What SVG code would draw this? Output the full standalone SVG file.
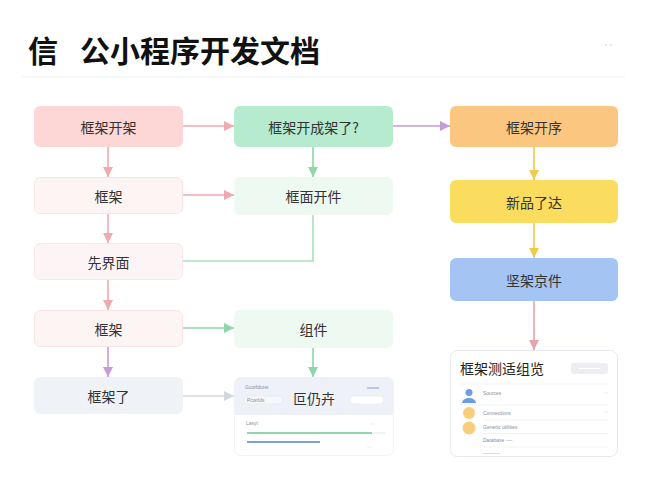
<svg xmlns="http://www.w3.org/2000/svg" width="650" height="500" viewBox="0 0 650 500">
<defs>
<style>
.t{font-family:"Noto Sans CJK SC","Noto Sans",sans-serif;font-size:14px;fill:#333;text-anchor:middle;dominant-baseline:central}
.tiny{font-family:"Liberation Sans",sans-serif;font-size:5px;fill:#8a8f99}
.ln{fill:none;stroke-width:1.6}
</style>
<marker id="aPink" viewBox="0 0 10 10" refX="10" refY="5" markerWidth="10" markerHeight="10" markerUnits="userSpaceOnUse" orient="auto"><path d="M0,0L10,5L0,10z" fill="#f0a9b0"/></marker>
<marker id="aGreen" viewBox="0 0 10 10" refX="10" refY="5" markerWidth="10" markerHeight="10" markerUnits="userSpaceOnUse" orient="auto"><path d="M0,0L10,5L0,10z" fill="#8fd6ab"/></marker>
<marker id="aPurple" viewBox="0 0 10 10" refX="10" refY="5" markerWidth="10" markerHeight="10" markerUnits="userSpaceOnUse" orient="auto"><path d="M0,0L10,5L0,10z" fill="#c79bd6"/></marker>
<marker id="aYellow" viewBox="0 0 10 10" refX="10" refY="5" markerWidth="10" markerHeight="10" markerUnits="userSpaceOnUse" orient="auto"><path d="M0,0L10,5L0,10z" fill="#f2c94c"/></marker>
<marker id="aGray" viewBox="0 0 10 10" refX="10" refY="5" markerWidth="10" markerHeight="10" markerUnits="userSpaceOnUse" orient="auto"><path d="M0,0L10,5L0,10z" fill="#d3d8e0"/></marker>
<marker id="aRose" viewBox="0 0 10 10" refX="10" refY="5" markerWidth="10" markerHeight="10" markerUnits="userSpaceOnUse" orient="auto"><path d="M0,0L10,5L0,10z" fill="#e8a2aa"/></marker>
</defs>
<rect width="650" height="500" fill="#ffffff"/>

<g id="header">
<text x="28" y="62" font-family="'Noto Sans CJK SC',sans-serif" font-size="30" font-weight="bold" fill="#111"><tspan x="28">信</tspan><tspan x="80">公小程序开发文档</tspan></text>
<circle cx="606" cy="45" r="0.8" fill="#c8ccd2"/>
<circle cx="611" cy="45" r="0.8" fill="#c8ccd2"/>
<line x1="22" y1="77" x2="625" y2="77" stroke="#eef0f3" stroke-width="1"/>
</g>

<g id="connectors">
<line class="ln" x1="183" y1="126" x2="234" y2="126" stroke="#f0a9b0" marker-end="url(#aPink)"/>
<line class="ln" x1="393" y1="126" x2="450" y2="126" stroke="#c79bd6" marker-end="url(#aPurple)"/>
<line class="ln" x1="108" y1="147" x2="108" y2="177" stroke="#f0a9b0" marker-end="url(#aPink)"/>
<line class="ln" x1="183" y1="195" x2="234" y2="195" stroke="#f0a9b0" marker-end="url(#aPink)"/>
<line class="ln" x1="313" y1="147" x2="313" y2="177" stroke="#8fd6ab" marker-end="url(#aGreen)"/>
<polyline class="ln" points="313,215 313,261 183,261" stroke="#a9dfbe"/>
<line class="ln" x1="108" y1="213" x2="108" y2="243" stroke="#f0a9b0" marker-end="url(#aPink)"/>
<line class="ln" x1="108" y1="279" x2="108" y2="310" stroke="#f0a9b0" marker-end="url(#aPink)"/>
<line class="ln" x1="183" y1="328" x2="234" y2="328" stroke="#8fd6ab" marker-end="url(#aGreen)"/>
<line class="ln" x1="108" y1="347" x2="108" y2="377" stroke="#c79bd6" marker-end="url(#aPurple)"/>
<line class="ln" x1="313" y1="348" x2="313" y2="377" stroke="#8fd6ab" marker-end="url(#aGreen)"/>
<line class="ln" x1="183" y1="396" x2="234" y2="396" stroke="#d3d8e0" marker-end="url(#aGray)"/>
<line class="ln" x1="534" y1="147" x2="534" y2="180" stroke="#f2c94c" marker-end="url(#aYellow)"/>
<line class="ln" x1="534" y1="223" x2="534" y2="258" stroke="#f2c94c" marker-end="url(#aYellow)"/>
<line class="ln" x1="534" y1="301" x2="534" y2="350" stroke="#e8a2aa" marker-end="url(#aRose)"/>
</g>

<g id="n1"><rect x="34" y="106" width="149" height="41" rx="6" fill="#fdd6d6"/><text class="t" x="108.5" y="127">框架开架</text></g>
<g id="n2"><rect x="34.5" y="177.5" width="148" height="36" rx="6" fill="#fdf4f4" stroke="#fae3e3"/><text class="t" x="108.5" y="195.5">框架</text></g>
<g id="n3"><rect x="34.5" y="243.5" width="148" height="36" rx="6" fill="#fdf5f5" stroke="#fae6e6"/><text class="t" x="108.5" y="261.5">先界面</text></g>
<g id="n4"><rect x="34.5" y="310.5" width="148" height="36" rx="6" fill="#fdf4f4" stroke="#fae3e3"/><text class="t" x="108.5" y="328.5">框架</text></g>
<g id="n5"><rect x="34" y="377" width="149" height="37" rx="6" fill="#eff2f7"/><text class="t" x="108.5" y="396" font-size="14.5">框架了</text></g>

<g id="m1"><rect x="234" y="106" width="159" height="41" rx="6" fill="#b6ebd0"/><text class="t" x="313.5" y="127">框架开成架了?</text></g>
<g id="m2"><rect x="234" y="177" width="159" height="38" rx="6" fill="#eef9f2"/><text class="t" x="313.5" y="196">框面开件</text></g>
<g id="m3"><rect x="234" y="310" width="159" height="38" rx="6" fill="#eef9f2"/><text class="t" x="313.5" y="329">组件</text></g>

<g id="m4">
<rect x="234.5" y="377.5" width="159" height="78" rx="6" fill="#ffffff" stroke="#f1f3f6"/>
<path d="M240.5,377.5h147a6,6 0 0 1 6,6v31.5h-159v-31.5a6,6 0 0 1 6,-6z" fill="#eef1f7"/>
<text class="tiny" x="245" y="389">Gcorfdurei</text>
<rect x="244" y="396" width="39" height="8" rx="4" fill="#f5f7fa" stroke="#e2e6ec" stroke-width="0.6"/>
<text class="tiny" x="247" y="402" font-size="4.5">Pcwrlds</text>
<text class="t" x="314" y="398">叵仍卉</text>
<line x1="367" y1="388" x2="379" y2="388" stroke="#8fb0e0" stroke-width="1.2"/>
<rect x="350" y="396" width="34" height="8" rx="4" fill="#ffffff" stroke="#e2e6ec" stroke-width="0.6"/>
<text class="tiny" x="246" y="425">Lasyt</text>
<line x1="371" y1="424" x2="375" y2="424" stroke="#dde1e6" stroke-width="0.6"/>
<line x1="247" y1="433" x2="372" y2="433" stroke="#93d5ab" stroke-width="1.8"/>
<line x1="372" y1="433" x2="385" y2="433" stroke="#eef1f4" stroke-width="1.8"/>
<line x1="247" y1="442" x2="320" y2="442" stroke="#7f9fd4" stroke-width="1.8"/>
<line x1="367" y1="447" x2="372" y2="447" stroke="#dde1e6" stroke-width="0.6"/>
</g>

<g id="r1"><rect x="450" y="106" width="168" height="41" rx="6" fill="#fbc67f"/><text class="t" x="534" y="127">框架开序</text></g>
<g id="r2"><rect x="450" y="180" width="168" height="43" rx="6" fill="#fadc5f"/><text class="t" x="534" y="201.5">新品了达</text></g>
<g id="r3"><rect x="450" y="258" width="168" height="43" rx="6" fill="#a4c4f3"/><text class="t" x="534" y="279.5" fill="#ffffff">坚架京件</text></g>

<g id="r4">
<rect x="450.5" y="350.5" width="167" height="106" rx="7" fill="#ffffff" stroke="#e6e9ee"/>
<text x="460" y="374" font-family="'Noto Sans CJK SC',sans-serif" font-size="14" fill="#222">框架测适组览</text>
<rect x="571" y="363" width="37" height="11" rx="3" fill="#eceef2"/>
<line x1="579" y1="368.5" x2="600" y2="368.5" stroke="#ffffff" stroke-width="1"/>
<line x1="460" y1="384" x2="608" y2="384" stroke="#eef0f3" stroke-width="0.8"/>
<circle cx="469" cy="392.5" r="3.5" fill="#6f9be6"/>
<path d="M462,403a7,5 0 0 1 14,0z" fill="#6f9be6"/>
<text class="tiny" x="483" y="395">Sources</text>
<line x1="604" y1="393" x2="608" y2="393" stroke="#e0e3e8" stroke-width="0.6"/>
<line x1="460" y1="405" x2="608" y2="405" stroke="#eef0f3" stroke-width="0.8"/>
<circle cx="469" cy="413" r="6" fill="#f8cd7d"/>
<text class="tiny" x="483" y="415">Connections</text>
<line x1="604" y1="412" x2="608" y2="412" stroke="#e0e3e8" stroke-width="0.6"/>
<line x1="483" y1="420" x2="608" y2="420" stroke="#eef0f3" stroke-width="0.8"/>
<circle cx="469" cy="428" r="6.5" fill="#f8cd7d"/>
<text class="tiny" x="483" y="429">Generic utilities</text>
<line x1="483" y1="433.5" x2="608" y2="433.5" stroke="#eef0f3" stroke-width="0.8"/>
<text class="tiny" x="483" y="442" fill="#b0b4bc" font-size="4.5">Database ----</text>
<line x1="483" y1="447" x2="608" y2="447" stroke="#eef0f3" stroke-width="0.8"/>
<text class="tiny" x="483" y="455" fill="#c0c4ca" font-size="4.5">----------</text>
</g>
</svg>
